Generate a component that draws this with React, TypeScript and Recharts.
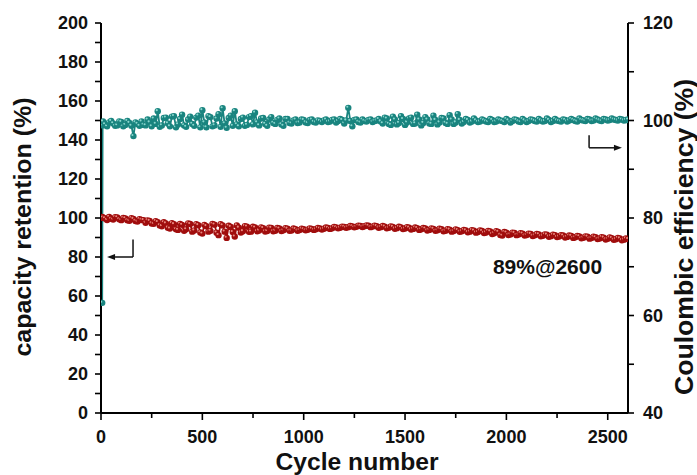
import React from 'react';
import {
  ComposedChart,
  Line,
  XAxis,
  YAxis,
  Label,
  ReferenceLine,
  ReferenceDot,
} from 'recharts';

// cycle numbers sampled from the plot (first cycles, then every 10)
const cycles = [
  6, 8,
  10, 20, 30, 40, 50, 60, 70, 80, 90, 100, 110, 120, 130, 140, 150, 160, 170, 180, 190, 200,
  210, 220, 230, 240, 250, 260, 270, 280, 290, 300, 310, 320, 330, 340, 350, 360, 370, 380, 390, 400,
  410, 420, 430, 440, 450, 460, 470, 480, 490, 500, 510, 520, 530, 540, 550, 560, 570, 580, 590, 600,
  610, 620, 630, 640, 650, 660, 670, 680, 690, 700, 710, 720, 730, 740, 750, 760, 770, 780, 790, 800,
  810, 820, 830, 840, 850, 860, 870, 880, 890, 900, 910, 920, 930, 940, 950, 960, 970, 980, 990, 1000,
  1010, 1020, 1030, 1040, 1050, 1060, 1070, 1080, 1090, 1100, 1110, 1120, 1130, 1140, 1150, 1160, 1170, 1180, 1190, 1200,
  1210, 1220, 1230, 1240, 1250, 1260, 1270, 1280, 1290, 1300, 1310, 1320, 1330, 1340, 1350, 1360, 1370, 1380, 1390, 1400,
  1410, 1420, 1430, 1440, 1450, 1460, 1470, 1480, 1490, 1500, 1510, 1520, 1530, 1540, 1550, 1560, 1570, 1580, 1590, 1600,
  1610, 1620, 1630, 1640, 1650, 1660, 1670, 1680, 1690, 1700, 1710, 1720, 1730, 1740, 1750, 1760, 1770, 1780, 1790, 1800,
  1810, 1820, 1830, 1840, 1850, 1860, 1870, 1880, 1890, 1900, 1910, 1920, 1930, 1940, 1950, 1960, 1970, 1980, 1990, 2000,
  2010, 2020, 2030, 2040, 2050, 2060, 2070, 2080, 2090, 2100, 2110, 2120, 2130, 2140, 2150, 2160, 2170, 2180, 2190, 2200,
  2210, 2220, 2230, 2240, 2250, 2260, 2270, 2280, 2290, 2300, 2310, 2320, 2330, 2340, 2350, 2360, 2370, 2380, 2390, 2400,
  2410, 2420, 2430, 2440, 2450, 2460, 2470, 2480, 2490, 2500, 2510, 2520, 2530, 2540, 2550, 2560, 2570, 2580, 2590, 2600,
];

// capacity retention (%), left axis
const retention = [
  100.5, 100.1,
  100.2, 99.8, 99.0, 100.6, 99.6, 99.2, 100.4, 100.3, 99.3, 98.9, 100.0, 99.8, 98.8, 98.6, 99.9, 99.5, 98.5, 98.2, 99.4, 99.0,
  98.9, 97.6, 98.8, 98.5, 97.2, 97.0, 98.4, 97.9, 96.2, 95.8, 97.8, 97.2, 95.0, 94.6, 97.3, 96.8, 94.2, 93.9, 97.0, 96.5,
  93.5, 94.2, 97.2, 96.9, 93.0, 93.6, 96.8, 96.3, 92.6, 92.0, 96.5, 95.8, 93.0, 93.4, 97.0, 96.6, 92.5, 91.2, 96.8, 96.2,
  93.0, 89.8, 96.0, 95.4, 92.8, 90.5, 96.2, 95.0, 92.6, 93.2, 95.8, 95.6, 92.9, 93.0, 95.5, 95.1, 93.2, 93.6, 95.2, 94.8,
  93.1, 93.3, 95.0, 94.9, 93.2, 93.5, 94.9, 94.6, 93.3, 93.7, 94.8, 94.5, 93.4, 93.6, 94.6, 94.3, 93.5, 93.8, 94.5, 94.2,
  93.7, 94.0, 94.7, 94.4, 93.9, 94.2, 94.9, 94.6, 94.1, 94.5, 95.1, 94.9, 94.4, 94.7, 95.4, 95.2, 94.7, 95.0, 95.6, 95.4,
  95.0, 95.3, 95.9, 95.7, 95.2, 95.5, 96.1, 95.9, 95.4, 95.8, 96.2, 96.0, 95.3, 95.6, 96.1, 95.8, 95.0, 95.3, 95.9, 95.6,
  94.7, 95.0, 95.7, 95.4, 94.5, 94.8, 95.5, 95.2, 94.3, 94.6, 95.3, 95.0, 94.1, 94.4, 95.1, 94.8, 93.9, 94.2, 94.9, 94.6,
  93.6, 93.9, 94.7, 94.4, 93.4, 93.7, 94.5, 94.2, 93.2, 93.5, 94.3, 94.0, 93.0, 93.3, 94.1, 93.8, 92.9, 93.2, 93.9, 93.6,
  92.7, 93.0, 93.8, 93.5, 92.5, 92.8, 93.6, 93.3, 92.3, 92.6, 93.4, 93.1, 91.8, 92.2, 93.2, 92.9, 91.3, 91.0, 92.8, 92.5,
  91.3, 91.6, 92.5, 92.3, 91.2, 91.5, 92.2, 92.0, 91.0, 91.3, 92.0, 91.8, 90.8, 91.1, 91.8, 91.6, 90.6, 90.9, 91.6, 91.4,
  90.4, 90.7, 91.4, 91.2, 90.2, 90.5, 91.2, 91.0, 90.0, 90.3, 91.0, 90.8, 89.8, 90.1, 90.8, 90.6, 89.6, 89.9, 90.6, 90.4,
  89.4, 89.7, 90.4, 90.1, 89.2, 89.5, 90.2, 89.9, 89.0, 89.3, 90.0, 89.7, 88.8, 89.1, 89.8, 89.5, 88.6, 88.9, 89.5, 89.2,
];

// coulombic efficiency (%), right axis
const efficiency = [
  62.6, 99.0,
  99.8, 99.2, 98.8, 99.6, 99.9, 99.4, 98.9, 99.0, 99.8, 99.7, 98.8, 99.1, 99.9, 99.5, 98.9, 96.8, 99.6, 99.3, 98.9, 99.8,
  99.1, 99.0, 100.2, 99.6, 98.8, 100.4, 99.3, 101.9, 98.7, 99.0, 100.5, 100.6, 99.4, 98.8, 100.8, 100.9, 98.6, 99.2, 100.3, 101.2,
  99.0, 98.7, 100.2, 100.8, 99.3, 98.9, 100.6, 101.0, 98.6, 102.1, 99.6, 98.6, 100.9, 100.7, 98.8, 99.0, 100.4, 101.3, 98.7, 102.5,
  99.4, 98.5, 100.5, 101.0, 98.9, 101.9, 99.2, 98.8, 100.3, 100.6, 98.9, 99.1, 100.7, 100.9, 99.2, 101.6, 99.6, 99.0, 100.4, 100.5,
  99.3, 98.9, 100.2, 100.7, 99.5, 99.3, 100.1, 100.4, 99.2, 98.9, 100.3, 100.3, 99.5, 99.4, 100.0, 100.2, 99.5, 99.6, 100.2, 100.1,
  99.6, 99.5, 100.1, 100.2, 99.7, 99.6, 100.0, 99.9, 99.7, 100.0, 100.2, 99.7, 99.8, 100.1, 100.2, 99.6, 99.9, 100.3, 100.1, 99.4,
  100.0, 102.6, 99.9, 98.8, 100.1, 100.2, 99.7, 99.6, 100.2, 99.9, 99.8, 100.1, 100.2, 99.7, 99.9, 100.0, 100.3, 99.8, 99.4, 100.6,
  100.4, 99.3, 99.1, 100.8, 100.2, 99.2, 99.5, 100.9, 100.3, 99.1, 99.6, 100.4, 100.6, 99.3, 99.4, 101.2, 100.2, 99.0, 99.5, 100.7,
  100.2, 99.4, 99.3, 101.0, 100.1, 99.2, 99.6, 100.5, 100.4, 99.5, 99.3, 101.1, 100.2, 99.3, 99.6, 101.3, 100.1, 99.4, 99.7, 100.3,
  100.1, 99.6, 99.8, 100.4, 100.0, 99.7, 99.8, 100.2, 100.0, 99.8, 99.7, 100.3, 100.1, 99.7, 99.8, 100.2, 100.0, 99.9, 99.7, 100.3,
  100.0, 99.6, 99.9, 100.2, 100.1, 99.8, 99.7, 100.3, 100.0, 99.7, 99.9, 100.2, 100.1, 99.9, 99.8, 100.3, 100.0, 99.8, 99.9, 100.4,
  100.1, 99.7, 99.9, 100.3, 100.0, 99.9, 99.8, 100.2, 100.1, 99.8, 100.0, 100.3, 100.1, 99.9, 99.8, 100.4, 100.1, 100.0, 99.9, 100.3,
  100.2, 99.9, 100.0, 100.4, 100.2, 100.0, 99.9, 100.3, 100.2, 100.0, 100.1, 100.4, 100.2, 100.1, 100.0, 100.3, 100.2, 100.0, 100.1, 100.2,
];

const xTicks = [0, 250, 500, 750, 1000, 1250, 1500, 1750, 2000, 2250, 2500];
const leftTicks = [0, 10, 20, 30, 40, 50, 60, 70, 80, 90, 100, 110, 120, 130, 140, 150, 160, 170, 180, 190, 200];
const rightTicks = [40, 50, 60, 70, 80, 90, 100, 110, 120];

const data = cycles.map((c, i) => ({ cycle: c, retention: retention[i], ce: efficiency[i] }));

const FONT = '"Liberation Sans", Arial, sans-serif';
const RED = '#a00d0d';
const RED_HI = '#e98a80';
const TEAL = '#19847f';
const TEAL_HI = '#8ad6cd';

const textStyle = { fontFamily: FONT, fontWeight: 700, fontSize: 18, fill: '#111' };

const LeftTick = ({ x, y, payload }: any) => {
  const major = payload.value % 20 === 0;
  return (
    <g>
      <line x1={x} x2={x - 6} y1={y} y2={y} stroke="#000" strokeWidth={1.6} />
      {major && (
        <text x={x - 13} y={y} dy="0.36em" textAnchor="end" style={textStyle}>
          {payload.value}
        </text>
      )}
    </g>
  );
};

const RightTick = ({ x, y, payload }: any) => {
  const major = payload.value % 20 === 0;
  return (
    <g>
      <line x1={x} x2={x + 6} y1={y} y2={y} stroke="#000" strokeWidth={1.6} />
      {major && (
        <text x={x + 15} y={y} dy="0.36em" textAnchor="start" style={textStyle}>
          {payload.value}
        </text>
      )}
    </g>
  );
};

const BottomTick = ({ x, y, payload }: any) => {
  const major = payload.value % 500 === 0;
  return (
    <g>
      <line x1={x} x2={x} y1={y} y2={y + (major ? 7 : 5)} stroke="#000" strokeWidth={1.6} />
      {major && (
        <text x={x} y={y + 30} textAnchor="middle" style={textStyle}>
          {payload.value}
        </text>
      )}
    </g>
  );
};

const sphere = (base: string, light: string) => (p: any) => {
  if (p.cx == null || p.cy == null) return <g key={`e-${p.index}`} />;
  return (
    <g key={`d-${p.index}`}>
      <circle cx={p.cx} cy={p.cy} r={3.2} fill={base} />
      <circle cx={p.cx - 1} cy={p.cy - 1.1} r={1.05} fill={light} />
    </g>
  );
};

const arrowLine = (head: boolean) => (p: any) => {
  const { x1, y1, x2, y2 } = p;
  const dx = x2 - x1;
  const dir = dx >= 0 ? 1 : -1;
  return (
    <g>
      <line x1={x1} y1={y1} x2={head ? x2 - dir * 6 : x2} y2={y2} stroke="#111" strokeWidth={1.5} />
      {head && (
        <polygon
          points={`${x2},${y2} ${x2 - dir * 8},${y2 - 3} ${x2 - dir * 8},${y2 + 3}`}
          fill="#111"
        />
      )}
    </g>
  );
};

const annotation = (p: any) => (
  <text
    x={p.cx}
    y={p.cy}
    dy="0.36em"
    textAnchor="middle"
    style={{ fontFamily: FONT, fontWeight: 700, fontSize: 21, fill: '#111' }}
  >
    89%@2600
  </text>
);

export default function App() {
  return (
    <div style={{ position: 'absolute', left: 0, top: 0, width: 697, height: 475, background: '#fff' }}>
      <ComposedChart
        width={697}
        height={475}
        data={data}
        margin={{ top: 23, right: 0, bottom: 0, left: 0 }}
      >
        <XAxis
          dataKey="cycle"
          type="number"
          domain={[0, 2600]}
          ticks={xTicks}
          interval={0}
          height={62}
          tickSize={0}
          tickMargin={0}
          tickLine={false}
          axisLine={{ stroke: '#000', strokeWidth: 2 }}
          tick={<BottomTick />}
          allowDataOverflow
        >
          <Label
            content={({ viewBox }: any) => (
              <text
                x={viewBox.x + 256}
                y={viewBox.y + 57}
                textAnchor="middle"
                textLength={163}
                lengthAdjust="spacingAndGlyphs"
                style={{ fontFamily: FONT, fontWeight: 700, fontSize: 24, fill: '#111' }}
              >
                Cycle number
              </text>
            )}
          />
        </XAxis>
        <YAxis
          yAxisId="left"
          domain={[0, 200]}
          ticks={leftTicks}
          interval={0}
          width={101}
          tickSize={0}
          tickMargin={0}
          tickLine={false}
          axisLine={{ stroke: '#000', strokeWidth: 2 }}
          tick={<LeftTick />}
        >
          <Label
            content={() => {
              const cx = 31;
              const cy = 227;
              return (
                <text
                  x={cx}
                  y={cy}
                  transform={`rotate(-90 ${cx} ${cy})`}
                  textAnchor="middle"
                  textLength={259}
                  lengthAdjust="spacingAndGlyphs"
                  style={{ fontFamily: FONT, fontWeight: 700, fontSize: 23, fill: '#111' }}
                >
                  capacity retention (%)
                </text>
              );
            }}
          />
        </YAxis>
        <YAxis
          yAxisId="right"
          orientation="right"
          domain={[40, 120]}
          ticks={rightTicks}
          interval={0}
          width={69}
          tickSize={0}
          tickMargin={0}
          tickLine={false}
          axisLine={{ stroke: '#000', strokeWidth: 2 }}
          tick={<RightTick />}
        >
          <Label
            content={() => {
              const cx = 693;
              const cy = 237;
              return (
                <text
                  x={cx}
                  y={cy}
                  transform={`rotate(-90 ${cx} ${cy})`}
                  textAnchor="middle"
                  textLength={316}
                  lengthAdjust="spacingAndGlyphs"
                  style={{ fontFamily: FONT, fontWeight: 700, fontSize: 25, fill: '#111' }}
                >
                  Coulombic efficiency (%)
                </text>
              );
            }}
          />
        </YAxis>

        <Line
          yAxisId="left"
          dataKey="retention"
          type="linear"
          stroke={RED}
          strokeWidth={1.8}
          dot={sphere(RED, RED_HI)}
          activeDot={false}
          isAnimationActive={false}
        />
        <Line
          yAxisId="right"
          dataKey="ce"
          type="linear"
          stroke={TEAL}
          strokeWidth={1.8}
          dot={sphere(TEAL, TEAL_HI)}
          activeDot={false}
          isAnimationActive={false}
        />

        <ReferenceLine
          yAxisId="left"
          segment={[{ x: 158, y: 89 }, { x: 158, y: 80 }]}
          shape={arrowLine(false)}
        />
        <ReferenceLine
          yAxisId="left"
          segment={[{ x: 158, y: 80 }, { x: 30, y: 80 }]}
          shape={arrowLine(true)}
        />
        <ReferenceLine
          yAxisId="left"
          segment={[{ x: 2408, y: 142.5 }, { x: 2408, y: 136 }]}
          shape={arrowLine(false)}
        />
        <ReferenceLine
          yAxisId="left"
          segment={[{ x: 2408, y: 136 }, { x: 2570, y: 136 }]}
          shape={arrowLine(true)}
        />
        <ReferenceDot yAxisId="left" x={2203} y={75.4} r={0} shape={annotation} />
      </ComposedChart>
    </div>
  );
}
